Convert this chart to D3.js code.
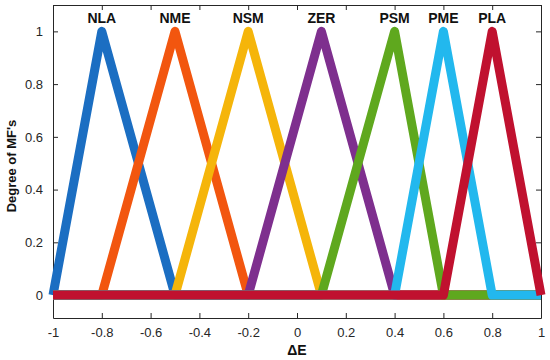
<!DOCTYPE html>
<html>
<head>
<meta charset="utf-8">
<script src="https://cdn.jsdelivr.net/npm/d3@7"></script>
<style>
  body { margin: 0; background: #fff; }
  text { font-family: "Liberation Sans", Arial, sans-serif; fill: #262626; }
</style>
</head>
<body>
<script>
// membership functions (triangles): left foot, peak, right foot
var mfNames = ["NLA", "NME", "NSM", "ZER", "PSM", "PME", "PLA"];
var mfLeft  = [-1, -0.8, -0.5, -0.2, 0.1, 0.4, 0.6];
var mfPeak  = [-0.8, -0.5, -0.2, 0.1, 0.4, 0.6, 0.8];
var mfRight = [-0.5, -0.2, 0.1, 0.4, 0.6, 0.8, 1];
var xTicks = [-1, -0.8, -0.6, -0.4, -0.2, 0, 0.2, 0.4, 0.6, 0.8, 1];
var yTicks = [0, 0.2, 0.4, 0.6, 0.8, 1];

var colors = ["#1b6ec2", "#f2560f", "#f5b50a", "#7e2f8e", "#5fa81e", "#22b8ee", "#c0112f"];

var width = 550, height = 360;
var plot = {left: 53, right: 541, top: 5, bottom: 318};

var xScale = d3.scaleLinear().domain([-1, 1]).range([plot.left, plot.right]);
var yScale = d3.scaleLinear().domain([-0.087, 1.1]).range([plot.bottom, plot.top]);

var svg = d3.select("body").append("svg")
    .attr("width", width)
    .attr("height", height);

// build the polyline for each MF over the whole universe [-1, 1]
function mfPoints(i) {
    var pts = [];
    if (mfLeft[i] > -1) pts.push([-1, 0]);
    pts.push([mfLeft[i], 0]);
    pts.push([mfPeak[i], 1]);
    pts.push([mfRight[i], 0]);
    if (mfRight[i] < 1) pts.push([1, 0]);
    return pts;
}

var line = d3.line()
    .x(function (d) { return xScale(d[0]); })
    .y(function (d) { return yScale(d[1]); });

// plain hyphen minus like the original
var fmt = function (d) { return String(d); };

// axes box with inward ticks on all sides
var axisColor = "#262626";
svg.append("g")
    .attr("transform", "translate(0," + plot.bottom + ")")
    .call(d3.axisBottom(xScale).tickValues(xTicks).tickSizeInner(-5).tickSizeOuter(0)
        .tickPadding(10).tickFormat(fmt))
    .call(function (g) {
        g.select(".domain").attr("stroke", axisColor);
        g.selectAll(".tick line").attr("stroke", axisColor);
        g.selectAll("text").attr("font-size", 13).style("fill", axisColor);
    });
svg.append("g")
    .attr("transform", "translate(0," + plot.top + ")")
    .call(d3.axisTop(xScale).tickValues(xTicks).tickSizeInner(-5).tickSizeOuter(0).tickFormat(""))
    .call(function (g) {
        g.select(".domain").attr("stroke", axisColor);
        g.selectAll(".tick line").attr("stroke", axisColor);
    });
svg.append("g")
    .attr("transform", "translate(" + plot.left + ",0)")
    .call(d3.axisLeft(yScale).tickValues(yTicks).tickSizeInner(-5).tickSizeOuter(0)
        .tickPadding(10).tickFormat(fmt))
    .call(function (g) {
        g.select(".domain").attr("stroke", axisColor);
        g.selectAll(".tick line").attr("stroke", axisColor);
        g.selectAll("text").attr("font-size", 13).style("fill", axisColor);
    });
svg.append("g")
    .attr("transform", "translate(" + plot.right + ",0)")
    .call(d3.axisRight(yScale).tickValues(yTicks).tickSizeInner(-5).tickSizeOuter(0).tickFormat(""))
    .call(function (g) {
        g.select(".domain").attr("stroke", axisColor);
        g.selectAll(".tick line").attr("stroke", axisColor);
    });

// MF lines, drawn in order so the last one sits on top
svg.append("g").selectAll("path")
    .data(mfNames)
    .enter()
    .append("path")
    .attr("d", function (d, i) { return line(mfPoints(i)); })
    .attr("fill", "none")
    .attr("stroke", function (d, i) { return colors[i]; })
    .attr("stroke-width", 9)
    .attr("stroke-linejoin", "round");

// MF labels above peaks
svg.append("g").selectAll("text")
    .data(mfNames)
    .enter()
    .append("text")
    .attr("x", function (d, i) { return xScale(mfPeak[i]); })
    .attr("y", 23)
    .attr("text-anchor", "middle")
    .attr("font-size", 14)
    .attr("font-weight", "bold")
    .style("fill", "#111")
    .text(function (d) { return d; });

// axis titles
svg.append("text")
    .attr("x", xScale(0))
    .attr("y", 355)
    .attr("text-anchor", "middle")
    .attr("font-size", 14)
    .attr("font-weight", "bold")
    .style("fill", "#111")
    .text("ΔE");

svg.append("text")
    .attr("transform", "translate(16,166) rotate(-90)")
    .attr("text-anchor", "middle")
    .attr("font-size", 13)
    .attr("font-weight", "bold")
    .style("fill", "#111")
    .text("Degree of MF's");
</script>
</body>
</html>
